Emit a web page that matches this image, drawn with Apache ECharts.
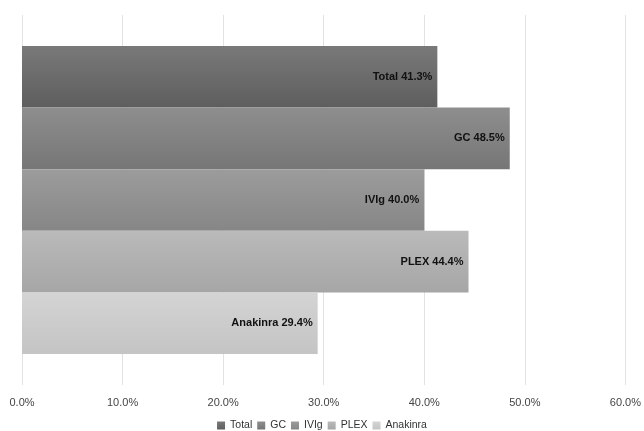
<!DOCTYPE html>
<html>
<head>
<meta charset="utf-8">
<script src="https://cdn.jsdelivr.net/npm/echarts@6/dist/echarts.min.js"></script>
<style>
  html, body { margin: 0; padding: 0; background: #fff; }
  #main { width: 644px; height: 431px; }
</style>
</head>
<body>
<div id="main"></div>
<script>
var categories = [''];
var seriesNames = ['Total', 'GC', 'IVIg', 'PLEX', 'Anakinra'];
var seriesValues = [41.3, 48.5, 40.0, 44.4, 29.4];
var xTicks = [0, 10, 20, 30, 40, 50, 60];

// 每个系列的灰度（上浅下深的渐变）
var topColors = ['#797979', '#8e8e8e', '#9c9c9c', '#bababa', '#d4d4d4'];
var bottomColors = ['#5e5e5e', '#767676', '#868686', '#a6a6a6', '#c4c4c4'];
var legendColors = ['#666666', '#7a7a7a', '#8a8a8a', '#aaaaaa', '#cccccc'];

var myChart = echarts.init(document.getElementById('main'));

var series = seriesNames.map(function (name, i) {
    return {
        name: name,
        type: 'bar',
        barWidth: 61.6,
        barGap: '0%',
        color: legendColors[i],
        itemStyle: {
            color: new echarts.graphic.LinearGradient(0, 0, 0, 1, [
                { offset: 0, color: topColors[i] },
                { offset: 1, color: bottomColors[i] }
            ])
        },
        label: {
            show: true,
            position: 'insideRight',
            distance: 5,
            color: '#111',
            fontWeight: 'bold',
            fontSize: 11,
            fontFamily: 'Liberation Sans',
            formatter: function (p) {
                return p.seriesName + ' ' + p.value.toFixed(1) + '%';
            }
        },
        data: [seriesValues[i]]
    };
});

var option = {
    animation: false,
    grid: {
        left: 22,
        right: 15,
        top: 15,
        bottom: 46
    },
    legend: {
        top: 415,
        itemWidth: 8,
        itemHeight: 8,
        itemGap: 5,
        icon: 'rect',
        textStyle: { color: '#333', fontSize: 10.5, fontFamily: 'Liberation Sans' },
        data: seriesNames
    },
    xAxis: {
        type: 'value',
        min: xTicks[0],
        max: xTicks[xTicks.length - 1],
        interval: 10,
        axisLine: { show: false },
        axisTick: { show: false },
        splitLine: { lineStyle: { color: '#e2e2e2' } },
        axisLabel: {
            color: '#444',
            fontSize: 11,
            fontFamily: 'Liberation Sans',
            margin: 12,
            formatter: function (v) { return v.toFixed(1) + '%'; }
        }
    },
    yAxis: {
        type: 'category',
        inverse: true,
        data: categories,
        axisLine: { show: false },
        axisTick: { show: false },
        axisLabel: { show: false }
    },
    series: series
};

myChart.setOption(option);
</script>
</body>
</html>
